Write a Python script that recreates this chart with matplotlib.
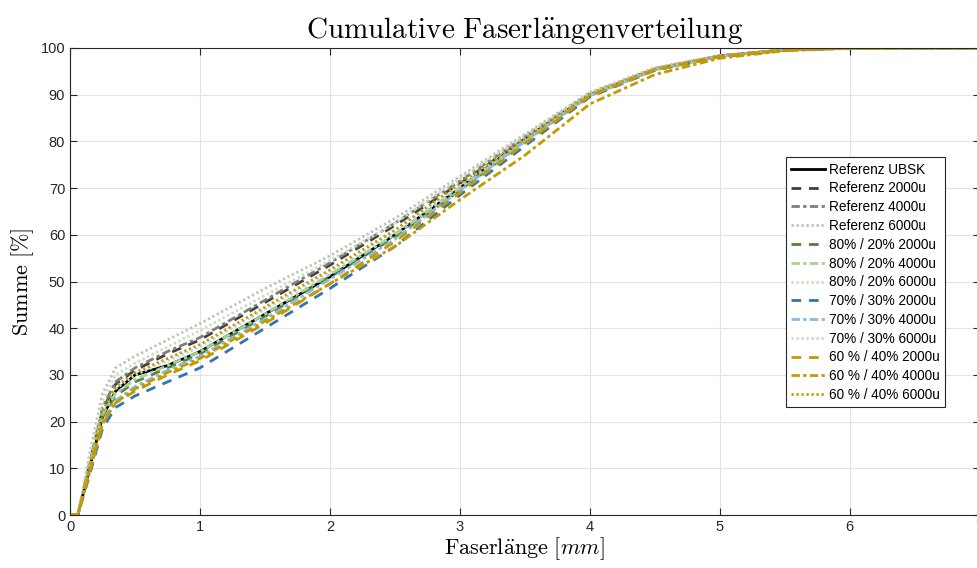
import matplotlib
matplotlib.use('Agg')
import matplotlib.pyplot as plt

plt.rcParams['mathtext.fontset'] = 'cm'
plt.rcParams['font.family'] = ['Liberation Sans', 'DejaVu Sans']

# Faserlänge [mm]
laenge = [0, 0.06, 0.15, 0.25, 0.35, 0.5, 0.75, 1.0, 1.5, 2.0, 2.5, 3.0, 3.5, 4.0, 4.5, 5.0, 5.5, 6.0, 7.0]

# Summe [%] je Serie
ref_ubsk = [0, 0, 10, 21, 26.5, 30, 32, 35, 43, 51, 60, 70, 80.5, 90, 95.5, 98.3, 99.6, 100, 100]
ref_2000 = [0, 0, 11, 22.5, 28, 31, 34.5, 37.5, 45.5, 53.5, 62, 71, 80.5, 90, 95.5, 98.3, 99.6, 100, 100]
ref_4000 = [0, 0, 11, 23, 28.5, 31.5, 35, 38, 46, 54, 62.5, 71.5, 81, 90.3, 95.5, 98.3, 99.6, 100, 100]
ref_6000 = [0, 0, 13, 26, 31.5, 34, 37.5, 41, 48.5, 55.5, 63.5, 72.5, 81.5, 90.5, 95.8, 98.4, 99.6, 100, 100]
m80_2000 = [0, 0, 10, 21, 25.5, 28.5, 31.5, 34.5, 42.5, 51, 59.5, 69.5, 80, 89.8, 95.3, 98.2, 99.6, 100, 100]
m80_4000 = [0, 0, 10.5, 21.5, 26, 29, 32, 35, 43, 51.5, 60, 70, 80.2, 89.8, 95.3, 98.2, 99.6, 100, 100]
m80_6000 = [0, 0, 12, 24.5, 30, 32.5, 36, 39.5, 47, 54.5, 62.5, 72, 81.2, 90.3, 95.6, 98.3, 99.6, 100, 100]
m70_2000 = [0, 0, 8.5, 18.5, 23, 25.5, 28.5, 31.5, 40, 48.5, 57.5, 68.5, 79, 89.5, 95.2, 98.1, 99.5, 100, 100]
m70_4000 = [0, 0, 9.5, 20, 24.5, 27.5, 31, 34, 42, 50.5, 59, 69.5, 80, 89.8, 95.3, 98.2, 99.6, 100, 100]
m70_6000 = [0, 0, 10.5, 22, 27, 30, 33, 36, 44, 52, 60.5, 70.5, 80.5, 90, 95.5, 98.3, 99.6, 100, 100]
m60_2000 = [0, 0, 9, 19.5, 24, 26.5, 30, 33, 41, 49.5, 58.5, 69, 79.5, 89.7, 95.3, 98.2, 99.6, 100, 100]
m60_4000 = [0, 0, 9, 19.5, 24, 27, 30.5, 33.5, 41.5, 49.5, 57.5, 67.5, 77, 88, 94.3, 97.8, 99.4, 99.9, 100]
m60_6000 = [0, 0, 10.5, 22, 27.5, 30.5, 33.5, 36.5, 44.5, 52.5, 61, 71, 80.5, 90, 95.5, 98.3, 99.6, 100, 100]

namen = ['Referenz UBSK', 'Referenz 2000u', 'Referenz 4000u', 'Referenz 6000u',
         '80% / 20% 2000u', '80% / 20% 4000u', '80% / 20% 6000u',
         '70% / 30% 2000u', '70% / 30% 4000u', '70% / 30% 6000u',
         '60 % / 40% 2000u', '60 % / 40% 4000u', '60 % / 40% 6000u']
serien = [ref_ubsk, ref_2000, ref_4000, ref_6000, m80_2000, m80_4000, m80_6000,
          m70_2000, m70_4000, m70_6000, m60_2000, m60_4000, m60_6000]

farben = ['#000000', '#404040', '#7f7f7f', '#bfbfbf',
          '#548235', '#a9d18e', '#c5e0b4',
          '#2e75b6', '#8ab8e4', '#bdd7ee',
          '#c49a00', '#c49a00', '#c49a00']
STRICH = (0, (3.5, 2.8))
STRICHPUNKT = (0, (3.0, 1.2, 1.2, 1.2))
PUNKT = (0, (0.8, 1.0))
stile = ['-', STRICH, STRICHPUNKT, PUNKT] + [STRICH, STRICHPUNKT, PUNKT] * 3

fig = plt.figure(figsize=(9.78, 5.68), dpi=100)
ax = fig.add_axes([0.0716, 0.0933, 0.930, 0.8222])

for werte, name, farbe, stil in zip(serien, namen, farben, stile):
    ax.plot(laenge, werte, color=farbe, linestyle=stil, linewidth=2.0, label=name)

ax.set_xlim(0, 7)
ax.set_ylim(0, 100)
ax.set_xticks(range(0, 8))
ax.set_yticks(range(0, 101, 10))
ax.grid(True, color='#e3e3e3', linewidth=0.8)
ax.set_axisbelow(True)

for s in ax.spines.values():
    s.set_color('#262626')
    s.set_linewidth(0.8)
ax.tick_params(direction='in', top=True, right=True, length=5, width=0.8,
               colors='#262626', labelsize=10.5)

ax.set_title(r'$\mathrm{Cumulative\ Faserl\ddot{a}ngenverteilung}$', fontsize=21, pad=7)
ax.set_xlabel(r'$\mathrm{Faserl\ddot{a}nge}\ [mm]$', fontsize=16, labelpad=1)
ax.set_ylabel(r'$\mathrm{Summe}\ [\%]$', fontsize=16, labelpad=3)

leg = ax.legend(loc='upper left', bbox_to_anchor=(0.787, 0.766), fontsize=9.8,
                handlelength=2.5, handletextpad=0.25, labelspacing=0.35,
                borderpad=0.4, borderaxespad=0, fancybox=False, framealpha=1)
leg.get_frame().set_edgecolor('#262626')
leg.get_frame().set_linewidth(0.8)

fig.savefig('out.png', dpi=100)
